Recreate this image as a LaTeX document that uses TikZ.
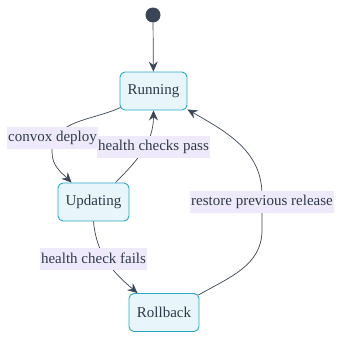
\documentclass[tikz,border=0pt]{standalone}
\usepackage{fontspec}
\setmainfont{Liberation Serif}
\usetikzlibrary{arrows.meta}
\definecolor{nodefill}{HTML}{E8F5FA}
\definecolor{nodedraw}{HTML}{2AA9C6}
\definecolor{labfill}{HTML}{EEEAFB}
\definecolor{txt}{HTML}{2F3A4A}
\definecolor{edgec}{HTML}{3A4556}
\tikzset{
  state/.style={draw=nodedraw, fill=nodefill, line width=0.9pt, rounded corners=5pt,
    minimum height=38pt, inner sep=0pt, text=txt, font=\fontsize{15}{17}\selectfont},
  lab/.style={fill=labfill, inner sep=1.2pt, minimum height=22pt, text=txt,
    font=\fontsize{15}{17}\selectfont},
  edge/.style={draw=edgec, line width=0.7pt, -{Stealth[length=10pt,width=9pt,inset=3.5pt]}},
  startdot/.style={circle, fill=edgec, minimum size=15pt, inner sep=0pt}
}
\begin{document}
\begin{tikzpicture}[x=1pt,y=1pt]
\useasboundingbox (0,0) rectangle (341,-340);
\node[startdot] (start) at (153,-15) {};
\node[state, minimum width=67pt] (Running) at (153.5,-91) {Running};
\node[state, minimum width=71pt] (Updating) at (93.5,-202) {Updating};
\node[state, minimum width=70pt] (Rollback) at (164,-312.5) {Rollback};

\draw[edge] (start) -- (Running);
\draw[edge] ([shift={(1,3)}]Running.south west) to[out=205,in=90] (52,-152) to[out=-90,in=135] ([xshift=14pt]Updating.north west);
\draw[edge] ([xshift=-14pt]Updating.north east) to[out=45,in=-90] (Running.south);
\draw[edge] (Updating.south) to[out=-85,in=140] ([xshift=9pt]Rollback.north west);
\draw[edge] ([shift={(-1,-2)}]Rollback.north east) to[out=30,in=-90] (262,-230) -- (262,-195) to[out=90,in=-30] ([shift={(0,1)}]Running.south east);

\node[lab] (l1) at (52.5,-138) {convox deploy};
\node[lab] (l2) at (153.5,-146.5) {health checks pass};
\node[lab] (l3) at (93.5,-258.5) {health check fails};
\node[lab] (l4) at (262,-202) {restore previous release};
\end{tikzpicture}
\end{document}
